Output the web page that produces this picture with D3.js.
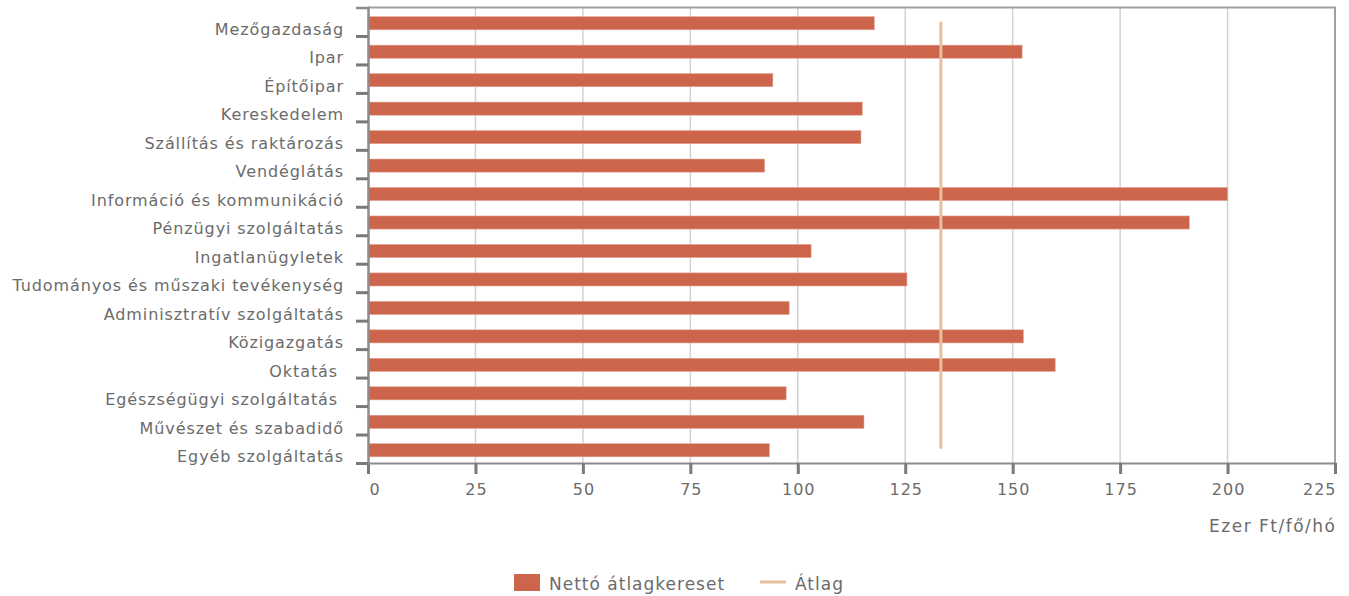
<!DOCTYPE html>
<html>
<head>
<meta charset="utf-8">
<script src="https://cdn.jsdelivr.net/npm/d3@7"></script>
<style>
  body { margin: 0; background: #fff; }
  text { font-family: "DejaVu Sans", sans-serif; fill: #6b6b6b; }
</style>
</head>
<body>
<div id="chart"></div>
<script>
var categories = ["Mezőgazdaság", "Ipar", "Építőipar", "Kereskedelem",
    "Szállítás és raktározás", "Vendéglátás", "Információ és kommunikáció",
    "Pénzügyi szolgáltatás", "Ingatlanügyletek", "Tudományos és műszaki tevékenység",
    "Adminisztratív szolgáltatás", "Közigazgatás", "Oktatás ",
    "Egészségügyi szolgáltatás ", "Művészet és szabadidő", "Egyéb szolgáltatás"];
var netto = [117.8, 152.2, 94.2, 115.0, 114.7, 92.3, 200.0, 191.1,
             103.1, 125.4, 98.0, 152.5, 159.9, 97.3, 115.4, 93.4];
var atlag = 133.3;
var xTicks = [0, 25, 50, 75, 100, 125, 150, 175, 200, 225];
var seriesNames = ["Nettó átlagkereset", "Átlag"];
var unitLabel = "Ezer Ft/fő/hó";

function init(){
    var w = 1349, h = 596;
    var left = 368, right = 1335, top = 7.5, bottom = 463;

    var svg = d3.select("#chart").append("svg")
        .attr("width", w).attr("height", h);

    var xScale = d3.scaleLinear().domain([0, 225]).range([left, right]);
    var yScale = d3.scaleBand()
        .domain(d3.range(categories.length))
        .range([top, bottom])
        .paddingInner(0.54)
        .paddingOuter(0.27);
    // boundaries between categories, for the y ticks
    var yEdge = d3.scaleLinear().domain([0, categories.length]).range([top, bottom]);

    // vertical grid lines
    svg.append("g").selectAll("line")
        .data(xTicks.slice(1))
        .enter().append("line")
        .attr("x1", function(d){ return xScale(d); })
        .attr("x2", function(d){ return xScale(d); })
        .attr("y1", top).attr("y2", bottom)
        .attr("stroke", "#d2d2d2")
        .attr("stroke-width", 1.5);

    // plot border (top + right)
    svg.append("path")
        .attr("d", "M" + left + "," + top + "H" + right + "V" + bottom)
        .attr("fill", "none")
        .attr("stroke", "#a0a0a0")
        .attr("stroke-width", 2);

    // bars
    svg.append("g").selectAll("rect")
        .data(netto)
        .enter().append("rect")
        .attr("x", xScale(0))
        .attr("y", function(d, i){ return yScale(i) + 1.5; })
        .attr("width", function(d){ return xScale(d) - xScale(0); })
        .attr("height", yScale.bandwidth())
        .attr("fill", "#cc654b")
        .attr("stroke", "#e3a391")
        .attr("stroke-width", 0.6);

    // average line
    svg.append("line")
        .attr("x1", xScale(atlag)).attr("x2", xScale(atlag))
        .attr("y1", yEdge(0.5)).attr("y2", yEdge(categories.length - 0.5))
        .attr("stroke", "#e6bf9f")
        .attr("stroke-width", 3);

    // x axis
    var xAxis = svg.append("g")
        .attr("transform", "translate(0," + bottom + ")")
        .call(d3.axisBottom(xScale).tickValues(xTicks).tickSize(11).tickPadding(10));
    xAxis.select(".domain").attr("stroke", "#8c8c8c").attr("stroke-width", 2);
    xAxis.selectAll(".tick line").attr("stroke", "#7a7a7a").attr("stroke-width", 3);
    xAxis.selectAll(".tick text")
        .attr("font-size", 16).attr("fill", "#6b6b6b")
        .attr("dx", 0.5)
        .style("letter-spacing", "1px")
        .style("font-family", "DejaVu Sans, sans-serif");
    // first and last labels stay inside the plot width
    xAxis.selectAll(".tick text")
        .filter(function(d){ return d === xTicks[0]; })
        .attr("text-anchor", "start").attr("dx", 1);
    xAxis.selectAll(".tick text")
        .filter(function(d){ return d === xTicks[xTicks.length - 1]; })
        .attr("text-anchor", "end").attr("dx", 1);

    // y axis: ticks at category edges
    var yAxis = svg.append("g")
        .attr("transform", "translate(" + left + ",0)")
        .call(d3.axisLeft(yEdge).tickValues(d3.range(1, categories.length + 1))
              .tickSize(12).tickFormat(""));
    yAxis.select(".domain").attr("stroke", "#8c8c8c").attr("stroke-width", 2.5);
    yAxis.selectAll(".tick line").attr("stroke", "#7a7a7a").attr("stroke-width", 3);

    // category labels
    svg.append("g").selectAll("text")
        .data(categories)
        .enter().append("text")
        .attr("x", left - 24)
        .attr("y", function(d, i){ return yEdge(i + 1) - 1; })
        .attr("text-anchor", "end")
        .attr("font-size", 16)
        .style("letter-spacing", "0.9px")
        .style("white-space", "pre")
        .text(function(d){ return d; });

    // unit label
    svg.append("text")
        .attr("x", right + 1.5)
        .attr("y", 532)
        .attr("text-anchor", "end")
        .attr("font-size", 17)
        .style("letter-spacing", "1.5px")
        .text(unitLabel);

    // legend
    var lg = svg.append("g");
    lg.append("rect")
        .attr("x", 514).attr("y", 574).attr("width", 26).attr("height", 17)
        .attr("fill", "#cc654b");
    lg.append("text")
        .attr("x", 549).attr("y", 590)
        .attr("font-size", 17)
        .style("letter-spacing", "1px")
        .text(seriesNames[0]);
    lg.append("line")
        .attr("x1", 760).attr("x2", 786).attr("y1", 582).attr("y2", 582)
        .attr("stroke", "#e6bf9f").attr("stroke-width", 3);
    lg.append("text")
        .attr("x", 795).attr("y", 590)
        .attr("font-size", 17)
        .style("letter-spacing", "1px")
        .text(seriesNames[1]);
}

window.onload = init;
</script>
</body>
</html>
